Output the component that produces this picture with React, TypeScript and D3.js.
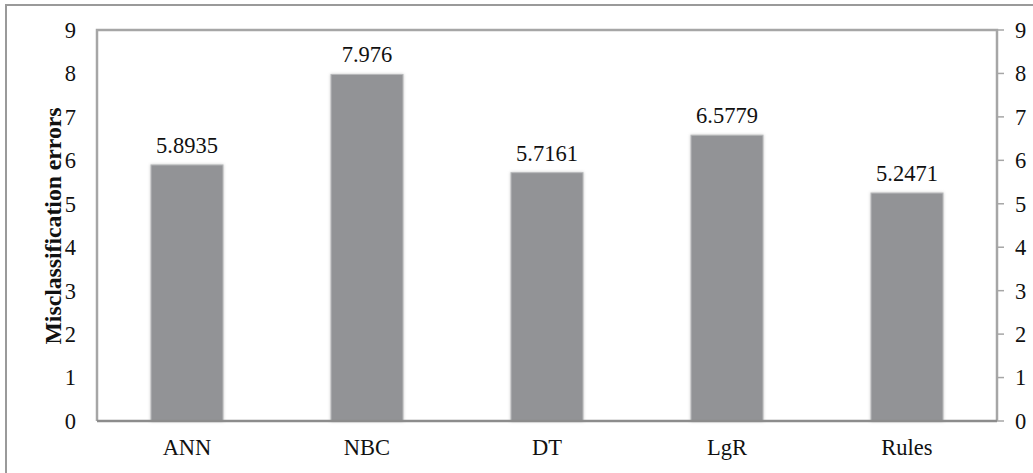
import * as d3 from "d3";
import React from "react";

const categories = ["ANN", "NBC", "DT", "LgR", "Rules"];
const errors = [5.8935, 7.976, 5.7161, 6.5779, 5.2471];
const valueLabels = ["5.8935", "7.976", "5.7161", "6.5779", "5.2471"];
const yTicks = [0, 1, 2, 3, 4, 5, 6, 7, 8, 9];

const W = 1033;
const H = 473;
const plot = { left: 97, right: 997, top: 30, bottom: 421 };
const font = "Liberation Serif, Times New Roman, serif";
const fs = 22.5;

export default function App() {
  const x = d3
    .scaleBand()
    .domain(categories)
    .range([plot.left, plot.right])
    .paddingInner(0.6)
    .paddingOuter(0.3);
  const y = d3.scaleLinear().domain([0, 9]).range([plot.bottom, plot.top]);

  return (
    <svg
      width={W}
      height={H}
      style={{ position: "absolute", left: 0, top: 0, background: "#fff" }}
    >
      <defs>
        <filter id="glow" x="-20%" y="-20%" width="140%" height="140%">
          <feGaussianBlur in="SourceAlpha" stdDeviation="1.5" result="b" />
          <feFlood floodColor="#c8c8c8" />
          <feComposite in2="b" operator="in" result="s" />
          <feMerge>
            <feMergeNode in="s" />
            <feMergeNode in="SourceGraphic" />
          </feMerge>
        </filter>
      </defs>
      {/* outer chart border (right and bottom edges fall outside the picture) */}
      <rect x={6} y={5} width={1040} height={480} fill="none" stroke="#9a9a9a" strokeWidth={2} />
      {/* plot area border */}
      <path
        d={`M${plot.left},${plot.bottom} V${plot.top} H${plot.right} V${plot.bottom}`}
        fill="none"
        stroke="#a6a6a6"
        strokeWidth={2.5}
      />
      {/* right axis ticks */}
      {yTicks.map((t) => (
        <line
          key={"rt" + t}
          x1={plot.right}
          x2={plot.right + 7}
          y1={y(t)}
          y2={y(t)}
          stroke="#a6a6a6"
          strokeWidth={1.5}
        />
      ))}
      {/* bars */}
      {categories.map((c, i) => (
        <rect
          key={c}
          x={x(c)}
          y={y(errors[i])}
          width={x.bandwidth()}
          height={plot.bottom - y(errors[i])}
          fill="#929396"
          stroke="#b8b9bb"
          strokeWidth={1}
          filter="url(#glow)"
        />
      ))}
      {/* x axis line */}
      <line
        x1={plot.left}
        x2={plot.right}
        y1={plot.bottom}
        y2={plot.bottom}
        stroke="#8c8c8c"
        strokeWidth={2.5}
      />
      {/* value labels */}
      {categories.map((c, i) => (
        <text
          key={"v" + c}
          x={(x(c) as number) + x.bandwidth() / 2}
          y={y(errors[i]) - 12}
          textAnchor="middle"
          fontFamily={font}
          fontSize={fs}
          fill="#111"
        >
          {valueLabels[i]}
        </text>
      ))}
      {/* category labels */}
      {categories.map((c) => (
        <text
          key={"c" + c}
          x={(x(c) as number) + x.bandwidth() / 2}
          y={455}
          textAnchor="middle"
          fontFamily={font}
          fontSize={fs}
          fill="#111"
        >
          {c}
        </text>
      ))}
      {/* y tick labels, left and right */}
      {yTicks.map((t) => (
        <g key={"yl" + t}>
          <text
            x={76}
            y={y(t)}
            dy="0.35em"
            textAnchor="end"
            fontFamily={font}
            fontSize={fs}
            fill="#111"
          >
            {t}
          </text>
          <text
            x={1015}
            y={y(t)}
            dy="0.35em"
            textAnchor="start"
            fontFamily={font}
            fontSize={fs}
            fill="#111"
          >
            {t}
          </text>
        </g>
      ))}
      {/* y axis title */}
      <text
        transform={`translate(61,226) rotate(-90)`}
        textAnchor="middle"
        fontFamily={font}
        fontSize={fs}
        fontWeight="bold"
        fill="#111"
        textLength={237}
        lengthAdjust="spacingAndGlyphs"
      >
        Misclassification errors
      </text>
    </svg>
  );
}
